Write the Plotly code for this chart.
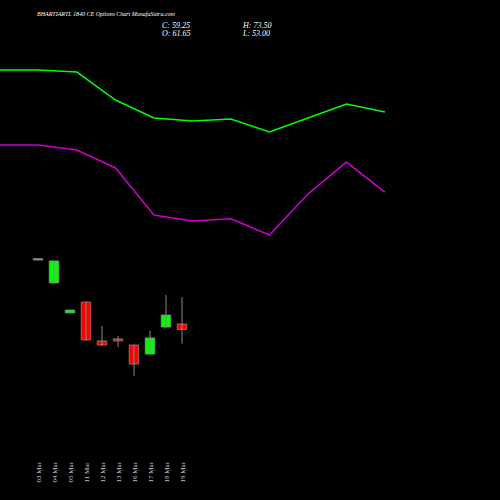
import plotly.graph_objects as go

dates = ["03 Mar","04 Mar","05 Mar","11 Mar","12 Mar","13 Mar","16 Mar","17 Mar","18 Mar","19 Mar"]
opens  = [89.8, 79.7, 66.5, 71.3, 54.2, 55.1, 52.4, 48.4, 60.3, 61.65]
closes = [90.25, 89.4, 67.8, 54.6, 52.4, 54.2, 44.0, 55.5, 65.6, 59.25]
highs  = [90.4, 89.4, 67.9, 71.5, 60.8, 56.4, 52.6, 58.6, 74.4, 73.5]
lows   = [89.7, 79.25, 66.4, 54.4, 52.0, 51.5, 38.8, 48.2, 59.9, 53.0]
upper  = [173.4, 173.4, 172.5, 160.2, 152.3, 151.0, 151.8, 146.1, 152.3, 158.4, 154.9]
lower  = [140.4, 140.4, 138.2, 130.3, 109.6, 107.0, 107.9, 100.8, 118.8, 132.9, 119.7]

xs = list(range(len(dates)))
fig = go.Figure()
wx, wy = [], []
for i in xs:
    wx += [i, i, None]
    wy += [lows[i], highs[i], None]
fig.add_trace(go.Scatter(x=wx, y=wy, mode="lines", line=dict(color="#888888", width=1), showlegend=False))
colors = ["#00ff00" if c >= o else "#ff0000" for o, c in zip(opens, closes)]
fig.add_trace(go.Bar(x=xs, base=[min(o, c) for o, c in zip(opens, closes)],
    y=[max(abs(c - o), 0.6) for o, c in zip(opens, closes)], width=0.6,
    marker=dict(color=colors, line=dict(color="#888888", width=0.8)), showlegend=False))
fig.add_trace(go.Scatter(x=list(range(len(upper))), y=upper, xaxis="x2", mode="lines",
    line=dict(color="#00ff00", width=1.5), showlegend=False))
fig.add_trace(go.Scatter(x=list(range(len(lower))), y=lower, xaxis="x2", mode="lines",
    line=dict(color="#cc00cc", width=1.5), showlegend=False))

ann = []
for i, d in enumerate(dates):
    ann.append(dict(x=i, y=0.03, xref="x", yref="paper", text=d, textangle=-90, showarrow=False,
                    xanchor="center", yanchor="bottom",
                    font=dict(family="Liberation Serif", size=7, color="#cccccc")))
hdr = dict(family="Liberation Serif", size=8, color="#ffffff")
ann += [
    dict(x=0.07, y=0.972, xref="paper", yref="paper", text="<i>BHARTIARTL 1840 CE Options Chart MunafaSutra.com</i>",
         showarrow=False, xanchor="left", yanchor="middle", font=dict(family="Liberation Serif", size=6, color="#ffffff")),
    dict(x=0.32, y=0.95, xref="paper", yref="paper", text="<i>C: 59.25</i>", showarrow=False, xanchor="left", yanchor="middle", font=hdr),
    dict(x=0.32, y=0.933, xref="paper", yref="paper", text="<i>O: 61.65</i>", showarrow=False, xanchor="left", yanchor="middle", font=hdr),
    dict(x=0.48, y=0.95, xref="paper", yref="paper", text="<i>H: 73.50</i>", showarrow=False, xanchor="left", yanchor="middle", font=hdr),
    dict(x=0.48, y=0.933, xref="paper", yref="paper", text="<i>L: 53.00</i>", showarrow=False, xanchor="left", yanchor="middle", font=hdr),
]

fig.update_layout(
    width=500, height=500, margin=dict(l=0, r=0, t=0, b=0),
    paper_bgcolor="#000000", plot_bgcolor="#000000",
    xaxis=dict(range=[-2.375, 28.875], visible=False),
    xaxis2=dict(range=[0, 12.99], overlaying="x", visible=False),
    yaxis=dict(range=[-15.8, 204.2], visible=False),
    annotations=ann,
)
fig.write_html("out.html", config={"displayModeBar": False},
               post_script="document.body.style.margin='0';document.body.style.background='#000';")
